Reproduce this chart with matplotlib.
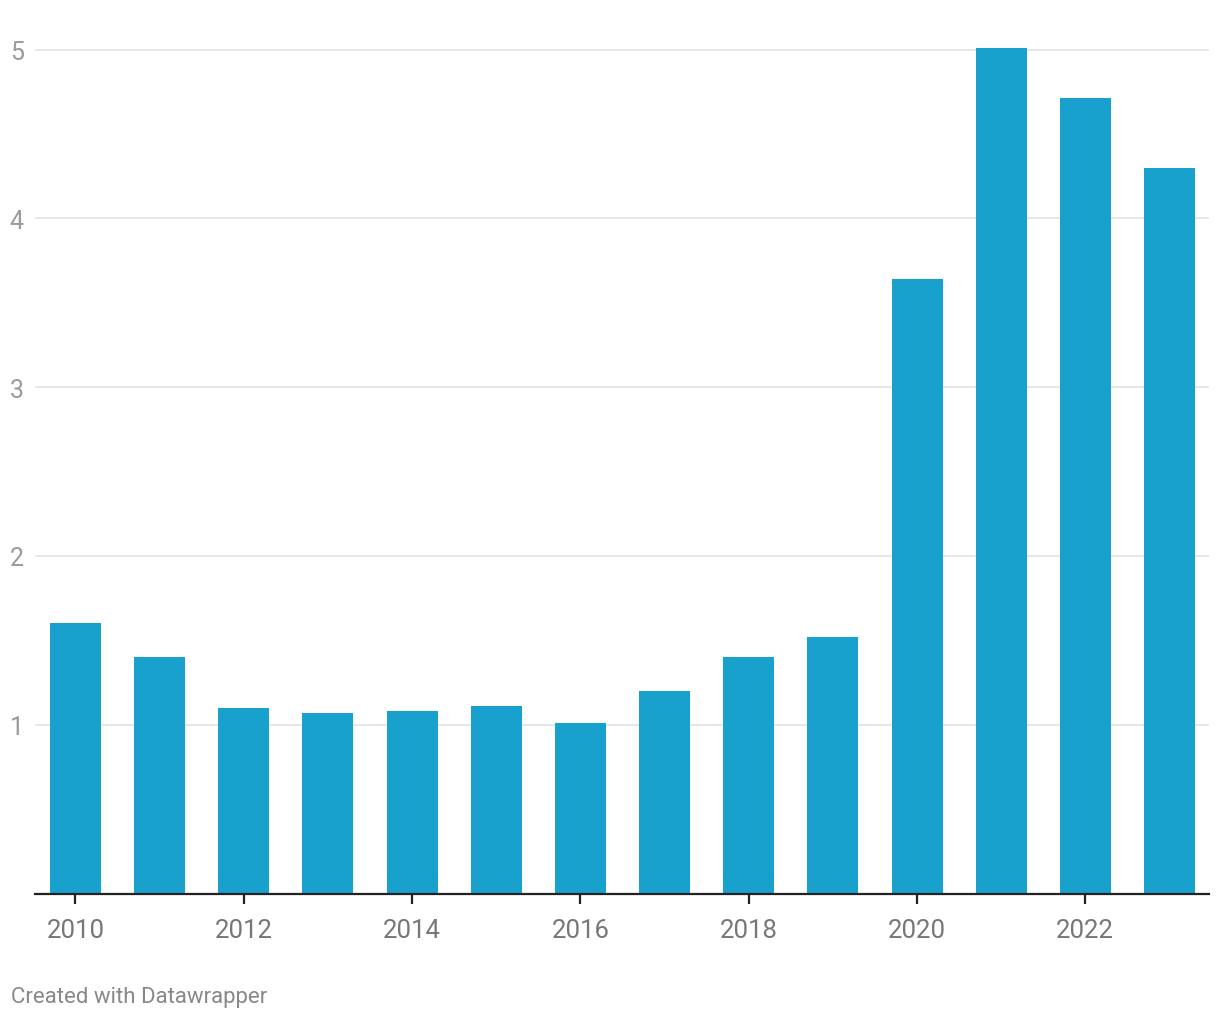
import matplotlib.pyplot as plt

plt.rcParams['font.family'] = ['Roboto', 'DejaVu Sans']

years = [2010, 2011, 2012, 2013, 2014, 2015, 2016, 2017, 2018, 2019, 2020, 2021, 2022, 2023]
values = [1.6, 1.4, 1.1, 1.07, 1.08, 1.11, 1.01, 1.2, 1.4, 1.52, 3.64, 5.01, 4.71, 4.3]
yticks = [1, 2, 3, 4, 5]
xticks = [2010, 2012, 2014, 2016, 2018, 2020, 2022]

fig = plt.figure(figsize=(12.2, 10.2), dpi=100)
# axes placed in pixel terms: x 35..1209, baseline at y=894
base_px = 894.5
top_val = 5.1
px_per_unit = 168.8
top_px = base_px - top_val * px_per_unit
ax = fig.add_axes([35 / 1220, 1 - base_px / 1020, (1209 - 35) / 1220, (base_px - top_px) / 1020])

ax.bar(years, values, width=0.606, color='#18a1cd', zorder=3)

ax.set_xlim(2010 - 0.481, 2023 + 0.469)
ax.set_ylim(0, top_val)

ax.set_yticks(yticks)
ax.set_yticklabels([str(v) for v in yticks])
ax.set_xticks(xticks)
ax.set_xticklabels([str(v) for v in xticks])

ax.grid(axis='y', color='#e3e3e3', linewidth=1.2, zorder=0)
ax.grid(axis='x', visible=False)

for side in ['top', 'right', 'left']:
    ax.spines[side].set_visible(False)
ax.spines['bottom'].set_color('#222222')
ax.spines['bottom'].set_linewidth(1.6)
ax.spines['bottom'].set_zorder(4)

ax.tick_params(axis='y', length=0, pad=8, labelsize=18, labelcolor='#9a9a9a')
ax.tick_params(axis='x', length=7.5, width=1.6, color='#222222', pad=10,
               labelsize=18.5, labelcolor='#777777')

fig.text(11 / 1220, 1 - 998 / 1020, 'Created with Datawrapper', fontsize=16,
         color='#888888', ha='left', va='center')

fig.savefig('out.png', dpi=100)
